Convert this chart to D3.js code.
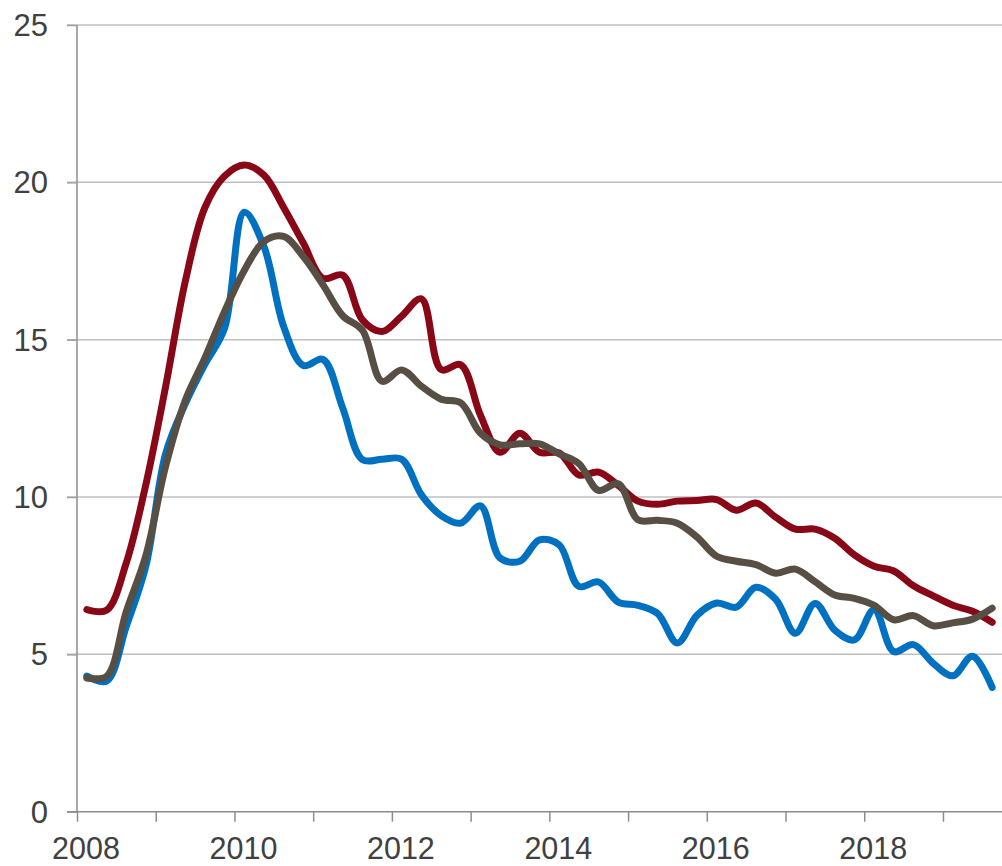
<!DOCTYPE html>
<html><head><meta charset="utf-8">
<script src="https://cdn.jsdelivr.net/npm/d3@7"></script>
<style>body{margin:0;background:#fff} svg{display:block}</style>
</head><body>
<svg id="chart" width="1002" height="866"></svg>
<script>
// Quarterly periods 2008Q1 .. 2019Q3
const periods = ["2008Q1","2008Q2","2008Q3","2008Q4","2009Q1","2009Q2","2009Q3","2009Q4",
  "2010Q1","2010Q2","2010Q3","2010Q4","2011Q1","2011Q2","2011Q3","2011Q4",
  "2012Q1","2012Q2","2012Q3","2012Q4","2013Q1","2013Q2","2013Q3","2013Q4",
  "2014Q1","2014Q2","2014Q3","2014Q4","2015Q1","2015Q2","2015Q3","2015Q4",
  "2016Q1","2016Q2","2016Q3","2016Q4","2017Q1","2017Q2","2017Q3","2017Q4",
  "2018Q1","2018Q2","2018Q3","2018Q4","2019Q1","2019Q2","2019Q3"];

const seriesRed = [6.42,6.4,7.9,10.4,13.5,16.85,19.2,20.2,
  20.55,20.23,19.2,18.07,16.95,17.05,15.63,15.26,
  15.75,16.3,14.05,14.2,12.6,11.42,12.03,11.42,
  11.4,10.7,10.79,10.37,9.87,9.77,9.87,9.89,
  9.92,9.58,9.81,9.36,8.98,8.98,8.69,8.16,
  7.8,7.65,7.18,6.86,6.56,6.37,6.02];

const seriesBlue = [4.31,4.15,5.88,7.81,11.37,12.96,14.22,15.37,
  19.05,17.96,15.42,14.18,14.37,12.83,11.19,11.2,
  11.2,10.07,9.41,9.17,9.72,8.06,7.96,8.64,
  8.48,7.16,7.3,6.66,6.56,6.3,5.36,6.24,
  6.63,6.5,7.13,6.75,5.67,6.62,5.77,5.46,
  6.42,5.09,5.31,4.72,4.32,4.94,3.95];

const seriesGray = [4.25,4.3,6.35,8.14,10.97,13.07,14.42,15.9,
  17.2,18.12,18.28,17.64,16.74,15.76,15.3,13.68,
  14.04,13.52,13.11,12.99,12.03,11.66,11.69,11.69,
  11.37,11.06,10.21,10.42,9.28,9.26,9.17,8.73,
  8.12,7.96,7.85,7.58,7.71,7.31,6.89,6.78,
  6.56,6.1,6.23,5.91,6.0,6.12,6.47];

const yTicks = [0,5,10,15,20,25];
const yearTicks = [2008,2009,2010,2011,2012,2013,2014,2015,2016,2017,2018,2019];
const yearLabels = ["2008","2010","2012","2014","2016","2018"];

const svg = d3.select("#chart");
const x = d3.scaleLinear().domain([2008, 2019.75]).range([77, 1002]);
const y = d3.scaleLinear().domain([0, 25]).range([811.7, 25]);

function periodToYear(p) {
  const yr = +p.slice(0,4), q = +p.slice(5);
  return yr + (q - 0.5) / 4;
}

const font = "'Liberation Sans', Arial, sans-serif";
const textColor = "#404040";

// gridlines
svg.append("g").selectAll("line").data(yTicks.filter(d => d > 0)).join("line")
  .attr("x1", 67).attr("x2", 1002)
  .attr("y1", d => y(d)).attr("y2", d => y(d))
  .attr("stroke", "#c0c0c0").attr("stroke-width", 1.5);

// y axis
const yAxis = svg.append("g").attr("transform", "translate(77,0)")
  .call(d3.axisLeft(y).tickValues(yTicks).tickSize(10).tickFormat(""));
yAxis.select(".domain").attr("stroke", "#8c8c8c").attr("stroke-width", 1.5).attr("d", `M0,${y(25)}V${y(0)}`);
yAxis.selectAll(".tick line").attr("stroke", "#a0a0a0").attr("stroke-width", 1.5);

svg.append("g").selectAll("text").data(yTicks).join("text")
  .attr("x", 48).attr("y", d => y(d) + 11)
  .attr("text-anchor", "end")
  .attr("font-family", font).attr("font-size", 31).attr("fill", textColor)
  .text(d => d);

// x axis
const xAxis = svg.append("g").attr("transform", `translate(0,${y(0)})`)
  .call(d3.axisBottom(x).tickValues(yearTicks).tickSize(10).tickFormat(""));
xAxis.select(".domain").attr("stroke", "#8c8c8c").attr("stroke-width", 1.5).attr("d", `M67,0H1002`);
xAxis.selectAll(".tick line").attr("stroke", "#8c8c8c").attr("stroke-width", 1.5);

svg.append("g").selectAll("text").data(yearLabels).join("text")
  .attr("x", d => x(+d) + 9).attr("y", 859.3)
  .attr("text-anchor", "middle")
  .attr("font-family", font).attr("font-size", 30.5).attr("fill", textColor)
  .text(d => d);

// lines
const line = d3.line()
  .x((d, i) => x(periodToYear(periods[i])))
  .y(d => y(d))
  .curve(d3.curveCatmullRom.alpha(0.5));

const series = [
  {values: seriesRed, color: "#890818"},
  {values: seriesBlue, color: "#0070c0"},
  {values: seriesGray, color: "#574e44"}
];

svg.append("g").selectAll("path").data(series).join("path")
  .attr("d", d => line(d.values))
  .attr("fill", "none")
  .attr("stroke", d => d.color)
  .attr("stroke-width", 7)
  .attr("stroke-linecap", "round")
  .attr("stroke-linejoin", "round");
</script>
</body></html>
